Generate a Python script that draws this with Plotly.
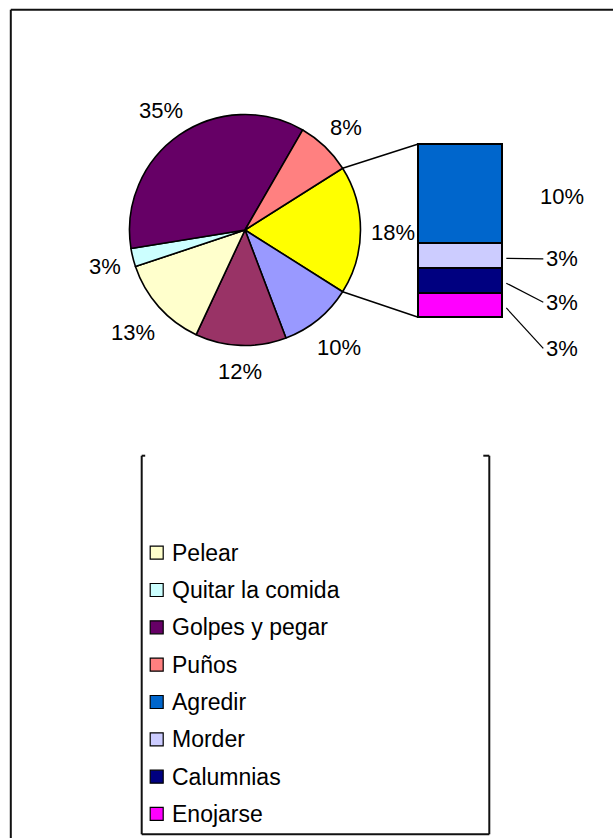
import math
import plotly.graph_objects as go

W, H = 613, 838

# ---------------- data ----------------
pie_names = ["", "", "Pelear", "Quitar la comida", "Golpes y pegar", "Puños"]
pie_values = [10, 12.4, 12.6, 2.5, 35, 7.5]
pie_colors = ["#9999FF", "#993366", "#FFFFCC", "#CCFFFF", "#660066", "#FF8080"]

bar_names = ["Agredir", "Morder", "Calumnias", "Enojarse"]
bar_values = [10, 2.5, 2.5, 2.5]
bar_colors = ["#0066CC", "#CCCCFF", "#000080", "#FF00FF"]

other_name = "Otros"
other_color = "#FFFF00"

# ---------------- layout constants ----------------
FONT = "Liberation Sans, Arial, sans-serif"
FS = 22
LFS = 23
CX, CY, R = 245.0, 230.0, 115.5          # pie centre / radius (px)
BX0, BX1, BY0, BY1 = 418.3, 502.3, 144.0, 317.3   # bar box (px)
LX0, LX1, LY0, LY1 = 141.7, 489.3, 455.7, 834.3   # legend box (px)
ROW0, ROWSTEP = 478.0, 37.33
PAD = 4  # px padding around bar axis so outlines are not clipped
LABEL_DY = 2.5  # small downward shift of pie labels (px)


def px(x):
    return x / W


def py(y):
    return 1 - y / H


def pct_text(v):
    return f"{int(math.floor(v + 0.5))}%"


def text_w(s, fs):
    w = 0
    for ch in s:
        w += 0.889 if ch == "%" else 0.556
    return w * fs


other_value = sum(bar_values)
all_pie_vals = [other_value] + pie_values
total = sum(all_pie_vals)
deg_per = 360.0 / total
rotation = 90 - other_value * deg_per / 2

fig = go.Figure()

fig.add_trace(go.Pie(
    labels=[f"s{i}" for i in range(len(all_pie_vals))],
    values=all_pie_vals,
    text=[other_name] + pie_names,
    hovertemplate="%{text}: %{value}<extra></extra>",
    marker=dict(colors=[other_color] + pie_colors, line=dict(color="black", width=1.6)),
    sort=False, direction="clockwise", rotation=rotation,
    textinfo="none", showlegend=False,
    domain=dict(x=[px(CX - R), px(CX + R)], y=[py(CY + R), py(CY - R)]),
))

# stacked bar (bottom first)
for name, val, col in reversed(list(zip(bar_names, bar_values, bar_colors))):
    fig.add_trace(go.Bar(
        x=[0], y=[val], name=name, width=1,
        marker=dict(color=col, line=dict(color="black", width=2)),
        xaxis="x2", yaxis="y2", showlegend=False, cliponaxis=False,
        hovertemplate=name + ": %{y}<extra></extra>",
    ))

annotations = []
shapes = []

# pie labels
start = rotation
K = 10
for v in all_pie_vals:
    span = v * deg_per
    mid = math.radians(start + span / 2)
    start += span
    t = pct_text(v)
    hw, hh = text_w(t, FS) / 2, 12.5
    s, c = math.sin(mid), math.cos(mid)
    d = R + K + abs(s) * hw + abs(c) * hh
    annotations.append(dict(
        x=px(CX + d * s), y=py(CY - d * c + LABEL_DY), xref="paper", yref="paper",
        text=t, showarrow=False, xanchor="center", yanchor="middle",
        font=dict(family=FONT, size=FS, color="black"),
    ))

# connector lines from pie edge to bar
a0 = math.radians(rotation)
a1 = math.radians(rotation + other_value * deg_per)
for a, by in ((a0, BY0), (a1, BY1)):
    shapes.append(dict(
        type="line", xref="paper", yref="paper",
        x0=px(CX + R * math.sin(a)), y0=py(CY - R * math.cos(a)),
        x1=px(BX0), y1=py(by),
        line=dict(color="black", width=1.5),
    ))

# bar labels
bar_h = BY1 - BY0
cum = 0
label_dy = [0, 3.5, 22, 43.5]   # label offsets (px) for small segments
for i, (name, val) in enumerate(zip(bar_names, bar_values)):
    mid_px = BY0 + (cum + val / 2) / other_value * bar_h
    cum += val
    t = pct_text(val)
    if i == 0:
        annotations.append(dict(
            x=px(BX1 + 59.4), y=py(mid_px + 3), xref="paper", yref="paper",
            text=t, showarrow=False, xanchor="center", yanchor="middle",
            font=dict(family=FONT, size=FS, color="black"),
        ))
    else:
        ly = mid_px + label_dy[i]
        shapes.append(dict(
            type="line", xref="paper", yref="paper",
            x0=px(BX1 + 4), y0=py(mid_px + 3), x1=px(BX1 + 41), y1=py(ly),
            line=dict(color="black", width=1.2),
        ))
        annotations.append(dict(
            x=px(BX1 + 42), y=py(ly), xref="paper", yref="paper",
            text=t, showarrow=False, xanchor="left", yanchor="middle",
            font=dict(family=FONT, size=FS, color="black"),
        ))

# legend (manual, on its own axis)
leg_names = pie_names + bar_names
leg_colors = pie_colors + bar_colors
rows = [i for i, n in enumerate(leg_names) if n]
fig.add_trace(go.Scatter(
    x=[15] * len(rows), y=rows, mode="markers",
    marker=dict(symbol="square", size=13, color=[leg_colors[i] for i in rows],
                line=dict(color="black", width=1.2)),
    xaxis="x3", yaxis="y3", showlegend=False, hoverinfo="skip",
))
for i in rows:
    annotations.append(dict(
        x=28, y=i, xref="x3", yref="y3", text=leg_names[i], showarrow=False,
        xanchor="left", yanchor="middle",
        font=dict(family=FONT, size=LFS, color="black"),
    ))

# legend box (left, right, bottom, small top hooks)
lw = dict(color="#111111", width=2)
for x0, y0, x1, y1 in [
    (LX0, LY0, LX0, LY1), (LX1, LY0, LX1, LY1), (LX0, LY1, LX1, LY1),
    (LX0, LY0, LX0 + 3.5, LY0), (LX1 - 6, LY0, LX1, LY0),
]:
    shapes.append(dict(type="line", xref="paper", yref="paper",
                       x0=px(x0), y0=py(y0), x1=px(x1), y1=py(y1), line=lw))

# outer chart border (left and top visible)
shapes.append(dict(type="line", xref="paper", yref="paper",
                   x0=px(10.8), y0=py(9.8), x1=px(10.8), y1=py(H + 5), line=lw))
shapes.append(dict(type="line", xref="paper", yref="paper",
                   x0=px(10.8), y0=py(9.8), x1=px(W + 5), y1=py(9.8), line=lw))

y3_top = (LY0 - ROW0) / ROWSTEP
y3_bot = (LY1 - ROW0) / ROWSTEP

# bar axes padded by PAD px so the outline is fully visible
bw = BX1 - BX0
bh = BY1 - BY0
xpad = PAD / bw
ypad = PAD / bh * other_value

fig.update_layout(
    width=W, height=H, margin=dict(l=0, r=0, t=0, b=0),
    paper_bgcolor="white", plot_bgcolor="rgba(0,0,0,0)",
    barmode="stack", bargap=0, showlegend=False,
    xaxis=dict(visible=False), yaxis=dict(visible=False),
    xaxis2=dict(domain=[px(BX0 - PAD), px(BX1 + PAD)], range=[-0.5 - xpad, 0.5 + xpad],
                visible=False, anchor="y2", fixedrange=True),
    yaxis2=dict(domain=[py(BY1 + PAD), py(BY0 - PAD)], range=[-ypad, other_value + ypad],
                visible=False, anchor="x2", fixedrange=True),
    xaxis3=dict(domain=[px(LX0), px(LX1)], range=[0, LX1 - LX0], visible=False,
                anchor="y3", fixedrange=True),
    yaxis3=dict(domain=[py(LY1), py(LY0)], range=[y3_bot, y3_top], visible=False,
                anchor="x3", fixedrange=True),
    annotations=annotations, shapes=shapes,
    font=dict(family=FONT),
)

fig.write_html("out.html", config={"displayModeBar": False},
               post_script="document.body.style.margin='0';")
